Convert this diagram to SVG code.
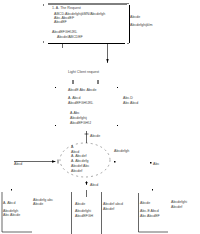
<svg xmlns="http://www.w3.org/2000/svg" width="200" height="234" viewBox="0 0 200 234">
<style>
text{font-family:"Liberation Sans",Arial,sans-serif;font-size:3.6px;fill:#444}
.ln{stroke:#000;stroke-width:1;fill:none}
.th{stroke:#000;stroke-width:0.6;fill:none}
.dash{stroke:#555;stroke-width:0.5;fill:none;stroke-dasharray:2 3}
.dot{fill:#000}
</style>
<rect width="200" height="234" fill="#fff"/>
<g id="request">
<path class="ln" d="M48 4H127M48 43.5H125M129.5 5V43"/>
<rect class="dot" x="43" y="4.5" width="1" height="1"/><rect class="dot" x="43" y="41.5" width="1" height="1"/>
<rect class="dot" x="127.5" y="3" width="1" height="1"/><rect class="dot" x="127.5" y="43" width="1" height="1"/>
<text x="52" y="8.5">1. A. The Request</text>
<text x="54" y="14.5">ABCD.AbcdefghijkMN/Abcdefgh</text>
<text x="54" y="18.5">Abc-AbcdEF</text>
<text x="54" y="23">AbcdEF</text>
<text x="52" y="33">AbcdEFGHIJKL</text>
<text x="57" y="38">Abcde/ABCDEF</text>
<text x="130" y="18">Abcde</text>
<text x="130" y="26">Abcdefghijklm</text>
</g>
<g id="client">
<text x="68" y="72.5">Light Client request</text>
<path class="ln" d="M73 80V84M98 80V84"/>
<rect class="dot" x="55" y="87" width="1" height="1"/><rect class="dot" x="117" y="87" width="1" height="1"/>
<text x="68" y="90.5">AbcdE Abc Abcde</text>
<text x="68" y="99">A. Abcd</text>
<text x="68" y="104">AbcdEFGHIJKL</text>
<text x="123" y="99">Abc.D</text>
<text x="123" y="104">Abc Abcd</text>
<text x="70" y="114">A.Abc</text>
<text x="70" y="119">Abcdefghij</text>
<text x="70" y="124">AbcdEFGHIJ</text>
<rect class="dot" x="55" y="125" width="1" height="1"/><rect class="dot" x="117" y="125" width="1" height="1"/>
</g>
<g id="core">
<ellipse class="dash" cx="85" cy="160" rx="25" ry="17"/>
<text x="71" y="148">A</text>
<text x="71" y="152.5">Abcd</text>
<text x="71" y="157">A. Abcdef</text>
<text x="71" y="161.5">A. Abcdefg</text>
<text x="71" y="166.5">Abcdef Abc</text>
<text x="71" y="172">Abcdef</text>
<text x="114" y="152">Abcdefgh</text>
<rect class="dot" x="114" y="161" width="1.5" height="1.5"/>
<rect class="dot" x="150" y="162" width="1.5" height="1.5"/>
<text x="153" y="164.5">Abc</text>
</g>
<g id="out1">
<path class="th" d="M2 192V232H32"/>
<rect class="dot" x="11" y="189" width="1" height="1.5"/>
<text x="3" y="203.5">A. Abcd</text>
<text x="3" y="211.5">Abcdefgh</text>
<text x="3" y="216">Abc Abcde</text>
<text x="33" y="200.5">Abcdefg abc</text>
<text x="33" y="204.5">Abcde</text>
</g>
<g id="out2">
<path class="th" d="M71.5 192V234M101.5 192V234"/>
<text x="75" y="204.5">Abcde</text>
<text x="75" y="212">Abcdefghi</text>
<text x="75" y="216.5">AbcdEFGH</text>
<text x="103" y="205">Abcdef abcd</text>
<text x="103" y="209.5">Abcdef</text>
</g>
<g id="out3">
<path class="th" d="M138.5 193V232H168"/>
<rect class="dot" x="152" y="189" width="1" height="1.5"/>
<text x="140" y="203.5">Abcde</text>
<text x="140" y="212">Abc-E Abcd</text>
<text x="140" y="216.5">Abc AbcdEF</text>
<text x="171" y="203">Abcdefghi</text>
<text x="171" y="207.5">Abcdef</text>
</g>
<g id="connectors">
<path class="th" d="M62.5 44V48"/>
<path class="th" d="M107.5 44V63"/>
<path d="M106.3 59L107.5 63L108.7 59Z"/>
<path class="th" d="M86.5 131V143M84.5 134H88.5"/>
<text x="90" y="137">Abcde</text>
<path class="th" d="M14 161.5H55M58 159.5V163.5"/>
<path d="M52 160.3L56 161.5L52 162.7Z"/>
<text x="14" y="164.5">Abcd</text>
<path class="th" d="M86.5 181V185M86.5 190V197"/>
<path d="M85.3 182L86.5 185L87.7 182Z"/>
<text x="90" y="185.5">Abcd</text>
</g>
</svg>
